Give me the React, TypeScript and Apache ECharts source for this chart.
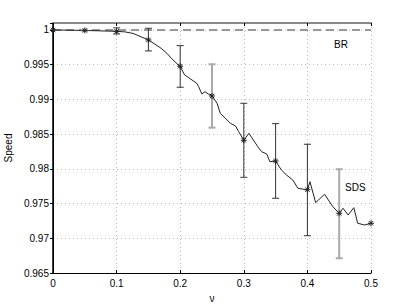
import React, { useEffect, useRef } from "react";
import * as echarts from "echarts";

// Fine SDS curve
const sdsX = [0, 0.05, 0.1, 0.113, 0.126, 0.15, 0.17, 0.179, 0.186, 0.197, 0.2, 0.207, 0.211, 0.226, 0.229, 0.234, 0.239, 0.244, 0.25, 0.258, 0.263, 0.271, 0.279, 0.287, 0.292, 0.3, 0.308, 0.315, 0.322, 0.328, 0.336, 0.341, 0.35, 0.354, 0.359, 0.367, 0.377, 0.385, 0.4, 0.404, 0.413, 0.427, 0.44, 0.45, 0.456, 0.464, 0.473, 0.479, 0.49, 0.5];
const sdsY = [1.0, 0.99993, 0.9998, 0.99972, 0.9995, 0.99856, 0.99736, 0.99664, 0.99592, 0.99496, 0.99471, 0.99352, 0.99327, 0.99232, 0.99183, 0.99078, 0.99111, 0.99078, 0.99049, 0.98944, 0.988, 0.98728, 0.98656, 0.98617, 0.98535, 0.98411, 0.98512, 0.98416, 0.98319, 0.98247, 0.98214, 0.98103, 0.98113, 0.98056, 0.97984, 0.97912, 0.9784, 0.9772, 0.97696, 0.97815, 0.97513, 0.97634, 0.97455, 0.9736, 0.97432, 0.97335, 0.97441, 0.97216, 0.97191, 0.97216];

// Marker points
const markX = [0, 0.05, 0.1, 0.15, 0.2, 0.25, 0.3, 0.35, 0.4, 0.45, 0.5];
const markY = [1.0, 0.99993, 0.9998, 0.99856, 0.99477, 0.99049, 0.98411, 0.98113, 0.977, 0.9736, 0.97216];

// Error bars
const errX = [0.05, 0.1, 0.15, 0.2, 0.25, 0.3, 0.35, 0.4, 0.45];
const errLow = [0.99985, 0.99942, 0.99698, 0.99175, 0.98593, 0.97878, 0.97576, 0.97037, 0.96712];
const errHigh = [1.00003, 1.0003, 1.00024, 0.99774, 0.99506, 0.98944, 0.98651, 0.98354, 0.97994];
const errShade = [1, 0, 0, 0, 1, 0, 0, 0, 1];

// BR baseline
const brX = [0, 0.5];
const brY = [1.0, 1.0];

const yTicks = ["1", "0.995", "0.99", "0.985", "0.98", "0.975", "0.97", "0.965"];

const FONT = "Liberation Sans, Arial, Helvetica, sans-serif";

export default function App() {
  const ref = useRef<HTMLDivElement>(null);
  useEffect(() => {
    document.body.style.margin = "0";
    const chart = echarts.init(ref.current!, null, { renderer: "svg" });
    const labelFmt = (v: number) => {
      const s = String(parseFloat(v.toFixed(3)));
      return yTicks.includes(s) ? s : "";
    };
    const option: any = {
      animation: false,
      backgroundColor: "#fff",
      textStyle: { fontFamily: FONT },
      grid: { left: 53, right: 38, top: 23, bottom: 35, show: false, containLabel: false, outerBoundsMode: "none" },
      xAxis: [
        {
          type: "value",
          min: 0,
          max: 0.5,
          interval: 0.1,
          position: "bottom",
          name: "ν",
          nameLocation: "middle",
          nameGap: 20,
          nameTextStyle: { fontSize: 10, color: "#000", fontFamily: FONT },
          axisLine: { lineStyle: { color: "#000", width: 1 } },
          axisTick: { show: true, inside: true, length: 3, lineStyle: { color: "#000" } },
          axisLabel: { fontSize: 10, color: "#000", margin: 5, fontFamily: FONT },
          splitLine: { show: true, lineStyle: { color: "#bbb", type: [1, 3], width: 1 } },
        },
        {
          type: "value",
          min: 0,
          max: 0.5,
          interval: 0.1,
          position: "top",
          axisLine: { lineStyle: { color: "#888", width: 2 } },
          axisTick: { show: true, inside: true, length: 3, lineStyle: { color: "#000" } },
          axisLabel: { show: false },
          splitLine: { show: false },
        },
      ],
      yAxis: [
        {
          type: "value",
          min: 0.965,
          max: 1.001,
          interval: 0.005,
          position: "left",
          name: "Speed",
          nameLocation: "middle",
          nameGap: 38,
          nameRotate: 90,
          nameTextStyle: { fontSize: 10, color: "#000", fontFamily: FONT },
          axisLine: { show: true, lineStyle: { color: "#000", width: 1 } },
          axisTick: { show: true, inside: false, length: 3, lineStyle: { color: "#000" } },
          axisLabel: { fontSize: 10, color: "#000", margin: 4, formatter: labelFmt, fontFamily: FONT, showMaxLabel: false },
          splitLine: { show: true, lineStyle: { color: "#bbb", type: [1, 3], width: 1 } },
        },
        {
          type: "value",
          min: 0.965,
          max: 1.001,
          interval: 0.005,
          position: "right",
          axisLine: { show: true, lineStyle: { color: "#000", width: 1.5 } },
          axisTick: { show: true, inside: true, length: 3, lineStyle: { color: "#000" } },
          axisLabel: { show: false },
          splitLine: { show: false },
        },
      ],
      series: [
        {
          type: "line",
          data: brX.map((x, i) => [x, brY[i]]),
          symbol: "none",
          lineStyle: { color: "#999", width: 2, type: [8, 5] },
          z: 1,
        },
        {
          type: "line",
          data: sdsX.map((x, i) => [x, sdsY[i]]),
          symbol: "none",
          lineStyle: { color: "#222", width: 1 },
          z: 2,
        },
        {
          type: "custom",
          data: errX.map((x, i) => [x, errLow[i], errHigh[i], errShade[i]]),
          renderItem: (params: any, api: any) => {
            const x = api.value(0);
            const lo = api.coord([x, api.value(1)]);
            const hi = api.coord([x, api.value(2)]);
            const color = api.value(3) === 1 ? "#aaa" : "#333";
            const w = api.value(3) === 1 ? 2 : 1;
            const c = 3.5;
            const st = { stroke: color, lineWidth: w };
            return {
              type: "group",
              children: [
                { type: "line", shape: { x1: hi[0], y1: hi[1], x2: lo[0], y2: lo[1] }, style: st },
                { type: "line", shape: { x1: hi[0] - c, y1: hi[1], x2: hi[0] + c, y2: hi[1] }, style: st },
                { type: "line", shape: { x1: lo[0] - c, y1: lo[1], x2: lo[0] + c, y2: lo[1] }, style: st },
              ],
            };
          },
          z: 3,
        },
        {
          type: "custom",
          data: markX.map((x, i) => [x, markY[i]]),
          renderItem: (params: any, api: any) => {
            const p = api.coord([api.value(0), api.value(1)]);
            const r = 3;
            const d = 2.2;
            const st = { stroke: "#222", lineWidth: 1 };
            return {
              type: "group",
              children: [
                { type: "line", shape: { x1: p[0] - r, y1: p[1], x2: p[0] + r, y2: p[1] }, style: st },
                { type: "line", shape: { x1: p[0], y1: p[1] - r, x2: p[0], y2: p[1] + r }, style: st },
                { type: "line", shape: { x1: p[0] - d, y1: p[1] - d, x2: p[0] + d, y2: p[1] + d }, style: st },
                { type: "line", shape: { x1: p[0] - d, y1: p[1] + d, x2: p[0] + d, y2: p[1] - d }, style: st },
              ],
            };
          },
          z: 4,
        },
      ],
      graphic: [
        { type: "text", left: 334, top: 39, style: { text: "BR", fontSize: 10, fill: "#000", fontFamily: FONT } },
        { type: "text", left: 345, top: 182, style: { text: "SDS", fontSize: 10, fill: "#000", fontFamily: FONT } },
      ],
    };
    chart.setOption(option);
    return () => chart.dispose();
  }, []);
  return <div ref={ref} style={{ width: 409, height: 308 }} />;
}
